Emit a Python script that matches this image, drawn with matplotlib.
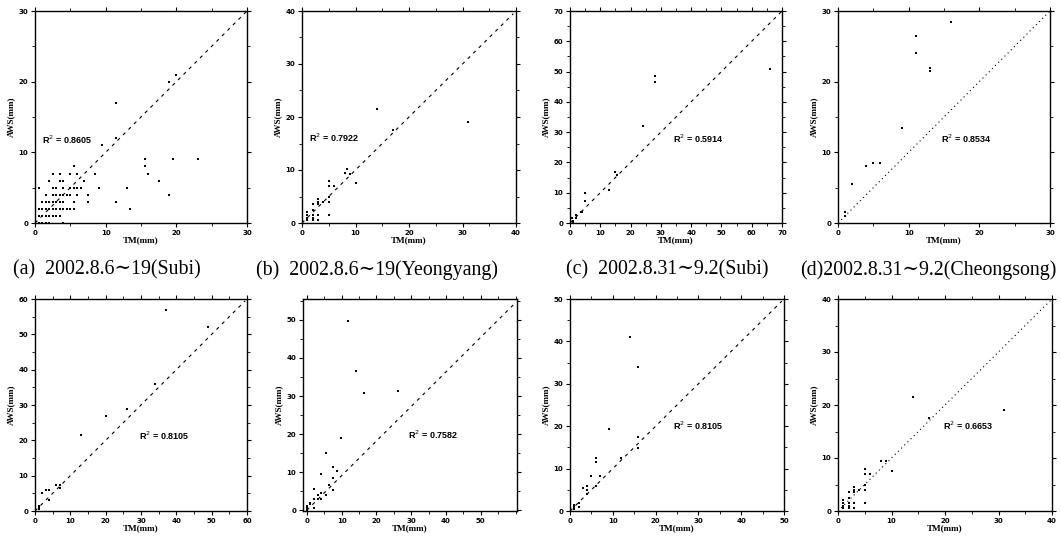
import matplotlib
matplotlib.use('Agg')
import matplotlib.pyplot as plt
from matplotlib.ticker import MultipleLocator

# (a) 2002.8.6~19 Subi
tm_a = [0.5, 1.5, 2, 2.5, 3.5, 3.5, 4, 5, 5.5, 6, 7, 8.5, 9.5, 11.5, 11.5, 11.5, 9, 13, 13.5,
        15.5, 15.5, 16, 17.5, 19, 19.5, 23, 19, 20, 7.5, 7.5, 6, 5.5, 6, 6.5, 5.5, 5.5,
        1, 1.5, 2, 2.5, 3, 3.5, 4,
        0.5, 1, 1.5, 2, 2.5, 3, 3.5, 4, 4.5, 5,
        0.5, 1, 1.5, 2, 2.5, 3, 3.5,
        0, 0.5, 1, 1.5, 2, 4,
        2.5, 3, 3.5, 4, 4.5, 5, 2.5, 3, 4, 5]
aws_a = [5, 4, 6, 7, 7, 6, 6, 7, 8, 7, 6, 7, 11, 17, 12, 3, 5, 5, 2,
         9, 8, 7, 6, 4, 9, 9, 20, 21, 4, 3, 4, 5, 5, 5, 3, 2,
         3, 3, 3, 3, 3, 3, 3,
         2, 2, 2, 2, 2, 2, 2, 2, 2, 2,
         1, 1, 1, 1, 1, 1, 1,
         0, 0, 0, 0, 0, 0,
         4, 4, 4, 4, 4, 4, 5, 5, 5, 5]

# (b) 2002.8.6~19 Yeongyang
tm_b = [0, 0, 0, 0, 0, 0, 0, 1, 1, 1, 1, 2, 2, 2, 2, 2, 3, 3, 3, 3, 3, 4,
        5, 5, 5, 5, 5, 6, 8, 8.5, 9, 10, 14, 17, 31]
aws_b = [13, 11, 4, 2.5, 1, 0.5, 0, 2, 1.5, 1, 0.5, 3.5, 2.5, 1.5, 1, 0.5, 4.5, 4, 3.5, 1.5, 0.5, 4,
         8, 7, 5, 4, 1.5, 7, 9.5, 10.2, 9.3, 7.5, 21.5, 17.5, 19]

# (c) 2002.8.31~9.2 Subi
tm_c = [0, 0, 0, 0, 0, 1, 1, 0.5, 2, 2, 3.5, 4, 5, 5, 13, 15, 15.5, 24, 28, 28, 66]
aws_c = [41, 2, 1, 0.5, 0, 0, 0.5, 1.5, 2.5, 1.5, 3.5, 3.5, 10, 7.3, 10.8, 16.8, 16, 32, 46.5, 48.5, 51]

# (d) 2002.8.31~9.2 Cheongsong
tm_d = [0, 1, 1, 2, 4, 5, 6, 9, 11, 11, 13, 13, 16]
aws_d = [1, 1.5, 1, 5.5, 8, 8.5, 8.5, 13.5, 26.5, 24, 22, 21.5, 28.5]

# (e)
tm_e = [0, 0, 0, 0, 1, 1, 1, 2, 3, 4, 4, 6, 7, 7, 13, 20, 26, 34, 37, 49]
aws_e = [1.5, 1, 0.5, 0, 1.5, 1, 0.5, 5, 6, 6, 3, 7.5, 7.5, 6.5, 21.5, 27, 29, 36, 57, 52]

# (f)
tm_f = [0, 0, 0, 0, 1, 1, 2.2, 2.2, 2.2, 3.1, 3.1, 4.1, 4.1, 4.1, 5.4, 5.4, 6.4, 7.5, 8.8,
        7.6, 7.6, 9.9, 11.9, 14, 16.4, 26.3]
aws_f = [1.2, 1, 0.5, 0, 1.6, 2, 5.5, 3, 0.5, 4, 3, 9.6, 4.5, 3, 15.1, 4, 6.5, 11.4, 10.3,
         8.4, 5.3, 18.9, 49.8, 36.6, 30.7, 31.2]

# (g)
tm_g = [0, 0, 0, 1, 1, 1, 2, 2, 3, 4, 4, 4, 5, 6, 6, 6, 7, 9, 12, 14, 16, 16, 16]
aws_g = [0.5, 0, 1, 1.5, 0.5, 1, 2, 1, 5.5, 6, 5, 4, 8.3, 12.5, 11.5, 6, 8.3, 19.4, 12.5, 41, 34, 17.5, 14.9]

# (h)
tm_h = [0, 0, 0, 0, 0, 0, 0, 1, 1, 1, 1, 2, 2, 2, 2, 2, 3, 3, 3, 3, 3, 4,
        5, 5, 5, 5, 5, 6, 8, 9, 10, 14, 17, 31]
aws_h = [13, 11, 4, 2.5, 1, 0.5, 0, 2, 1.5, 1, 0.5, 3.5, 2.5, 1.5, 1, 0.5, 4.5, 4, 3.5, 1.5, 0.5, 4,
         8, 7, 5, 4, 1.5, 7, 9.5, 9.5, 7.5, 21.6, 17.5, 19]

r2_text = ['0.8605', '0.7922', '0.5914', '0.8534', '0.8105', '0.7582', '0.8105', '0.6653']
r2_pos = [(1.0, 11.2), (1.4, 15.3), (34, 26.5), (14.6, 11.3), (29.4, 20.2), (29.2, 18.8), (24, 19.0), (19.7, 15.2)]
xlims = [(0, 30), (0, 40), (0, 70), (0, 30), (0, 60), (-1.1, 60.4), (0, 50), (0, 40)]
ylims = [(0, 30), (0, 40), (0, 70), (0, 30), (0, 60), (-0.2, 55.5), (0, 50), (0, 40)]
xticks_max = [30, 40, 70, 30, 60, 50, 50, 40]
diag_end = [(30, 30), (39.5, 39.5), (70, 70), (30, 30), (59.5, 59.5), (59.5, 54.1), (49.5, 49.5), (40, 40)]
captions = ['(a)  2002.8.6\u223c19(Subi)', '(b)  2002.8.6\u223c19(Yeongyang)',
            '(c)  2002.8.31\u223c9.2(Subi)', '(d)2002.8.31\u223c9.2(Cheongsong)']
caption_x = [107, 377, 667, 928]

tm_all = [tm_a, tm_b, tm_c, tm_d, tm_e, tm_f, tm_g, tm_h]
aws_all = [aws_a, aws_b, aws_c, aws_d, aws_e, aws_f, aws_g, aws_h]

W, H = 1061, 539
fig = plt.figure(figsize=(W / 100, H / 100), dpi=100)

# axes boxes in pixels: left, top, right, bottom
boxes = [(35, 11, 247, 223), (302, 11, 516, 223), (570, 11, 782, 223), (838, 11, 1050, 223),
         (35, 299, 247, 511), (303, 299, 517, 511), (570, 299, 784, 511), (838, 299, 1052, 511)]

for i in range(8):
    l, t, r, b = boxes[i]
    ax = fig.add_axes([l / W, 1 - b / H, (r - l) / W, (b - t) / H])
    ax.scatter(tm_all[i], aws_all[i], s=3, marker='s', color='black', linewidths=0, zorder=3)
    ls = (0, (1, 3)) if i in (3, 7) else (0, (3, 4))
    ax.plot([0, diag_end[i][0]], [0, diag_end[i][1]], color='black', lw=0.8, linestyle=ls)
    ax.set_xlim(*xlims[i])
    ax.set_ylim(*ylims[i])
    ax.set_xticks(range(0, xticks_max[i] + 1, 10))
    ax.set_yticks(range(0, int(ylims[i][1]) + 1, 10))
    ax.xaxis.set_minor_locator(MultipleLocator(5))
    ax.yaxis.set_minor_locator(MultipleLocator(5))
    ax.tick_params(which='major', length=3, width=0.8, labelsize=5, pad=2)
    ax.tick_params(which='minor', length=2, width=0.6)
    ax.tick_params(which='both', top=True, right=True)
    for lab in ax.get_xticklabels() + ax.get_yticklabels():
        lab.set_fontweight('bold')
    for sp in ax.spines.values():
        sp.set_linewidth(1.0)
    ax.set_xlabel('TM(mm)', fontsize=6.5, fontweight='bold', family='Liberation Serif', labelpad=0)
    ax.set_ylabel('AWS(mm)', fontsize=6.5, fontweight='bold', family='Liberation Serif', labelpad=2)
    ax.text(r2_pos[i][0], r2_pos[i][1], 'R$^{2}$ = ' + r2_text[i], fontsize=6.5,
            fontweight='bold', family='Liberation Sans')

for i in range(4):
    fig.text(caption_x[i] / W, 1 - 270 / H, captions[i], ha='center', va='center',
             fontsize=14.3, family=['Liberation Serif', 'DejaVu Serif'])

fig.savefig('out.png', dpi=100)
